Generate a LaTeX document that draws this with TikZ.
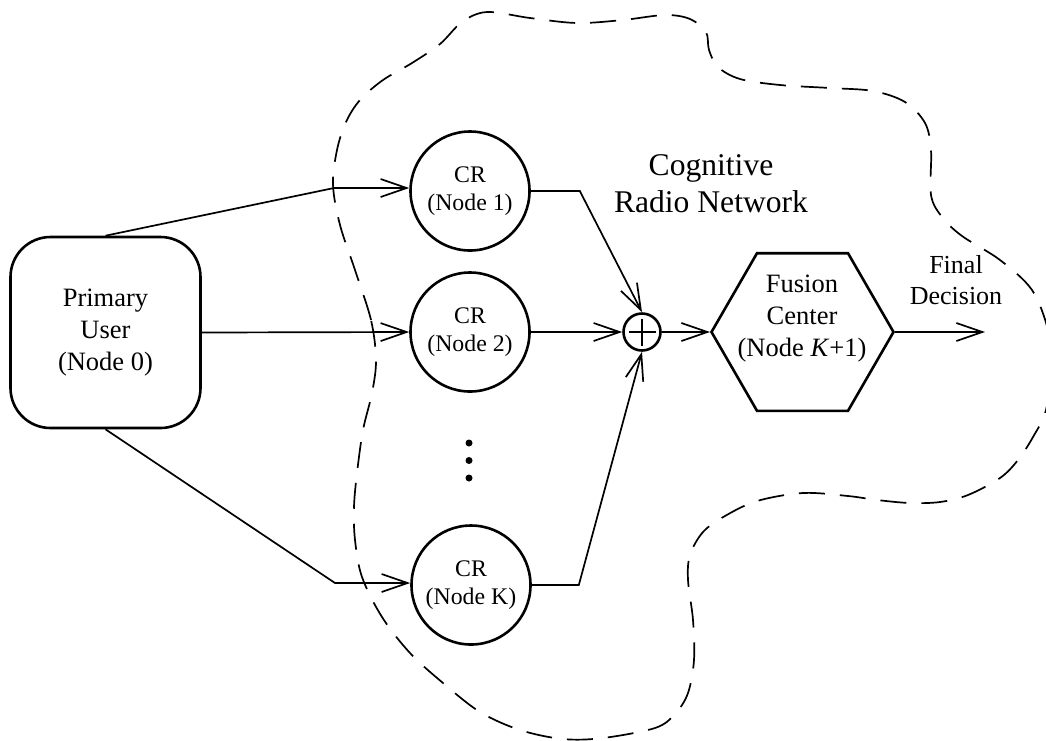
\documentclass[tikz,border=0pt]{standalone}
\usepackage{fontspec}
\setmainfont{Liberation Serif}
\usetikzlibrary{arrows.meta,shapes.geometric}
\begin{document}
\begin{tikzpicture}[x=1pt,y=-1pt,
  shapeline/.style={draw, line width=2.6pt},
  link/.style={line width=1.7pt},
  arr/.style={link, -{Straight Barb[length=26pt,width=18pt]}},
  maintext/.style={font=\fontsize{26.5}{32}\selectfont, align=center},
  crtext/.style={font=\fontsize{23.8}{28.5}\selectfont, align=center},
  crnode/.style={shapeline, circle, minimum size=119pt, inner sep=0pt, crtext},
  region/.style={line width=1.7pt, dash pattern=on 26pt off 15pt},
  dotnode/.style={circle, fill, inner sep=0pt, minimum size=7pt},
]
\useasboundingbox (0,0) rectangle (1046,740);

% network boundary
\draw[region] plot[smooth cycle, tension=0.55] coordinates {
  (376,360) (371,320) (355,270) (340,225) (333,185) (337,150) (346,122)
  (360,100) (383,80) (412,63) (440,44) (462,22) (487,12) (530,18) (577,23)
  (623,20) (665,15) (690,19) (706,32) (709,50) (718,67) (740,79) (780,85)
  (830,88) (873,91) (905,102) (925,123) (931,150) (931,195) (942,217)
  (962,236) (1000,260) (1032,290) (1048,330) (1051,365) (1046,410)
  (1033,437) (1018,460) (1000,478) (968,495) (940,502) (910,503) (877,500)
  (848,496) (803,493) (757,501) (725,516) (703,532) (690,555) (688,580)
  (693,620) (694,660) (688,693) (675,714) (655,728) (603,738) (563,739)
  (520,730) (480,712) (443,683) (410,653) (382,617) (362,577) (355,540)
  (354,507) (357,473) (363,430) (372,393)};

% nodes
\node[shapeline, rounded corners=40pt, minimum width=190pt, minimum height=191pt, maintext]
  (pu) at (105.5,332.5) {Primary\\User\\(Node 0)};
\node[crnode] (n1) at (470,191) {CR\\(Node 1)};
\node[crnode] (n2) at (470,332) {CR\\(Node 2)};
\node[crnode] (nk) at (471,585) {CR\\(Node K)};
\foreach \i/\yy in {1/443,2/460.5,3/478}
  \node[dotnode] (dot\i) at (469,\yy) {};

\node[shapeline, circle, minimum size=37pt, inner sep=0pt] (sum) at (642,332) {};
\draw[line width=2.6pt] (sum.center) ++(-13.5,0) -- ++(27,0)
                        (sum.center) ++(0,-13.5) -- ++(0,27);

\node[shapeline, regular polygon, regular polygon sides=6, minimum size=182pt, inner sep=0pt]
  (fc) at (802.5,332) {};
\node[maintext] (fctext) at (802,319) {Fusion\\Center\\(Node \textit{K}+1)};

\node[font=\fontsize{31.6}{37}\selectfont, align=center] (crn) at (711,184)
  {Cognitive\\Radio Network};
\node[font=\fontsize{26}{31}\selectfont, align=center] (fd) at (956,280)
  {Final\\Decision};

% connectors
\coordinate (c1) at (334,188);
\coordinate (ck) at (335,583);
\coordinate (out) at (985,332);

\draw[arr] (pu.north) -- (c1) -- (c1 -| n1.west);
\draw[arr] (pu.east) -- (n2.west);
\draw[arr] (pu.south) -- (ck) -- (ck -| nk.west);
\draw[arr] (n1.east) -- ++(49,0) -- (sum.north);
\draw[arr] (n2.east) -- (sum.west);
\draw[arr] (nk.east) -- ++(47,0) -- (sum.south);
\draw[arr] (sum.east) -- (fc.west);
\draw[arr] (fc.east) -- (out);
\end{tikzpicture}
\end{document}
